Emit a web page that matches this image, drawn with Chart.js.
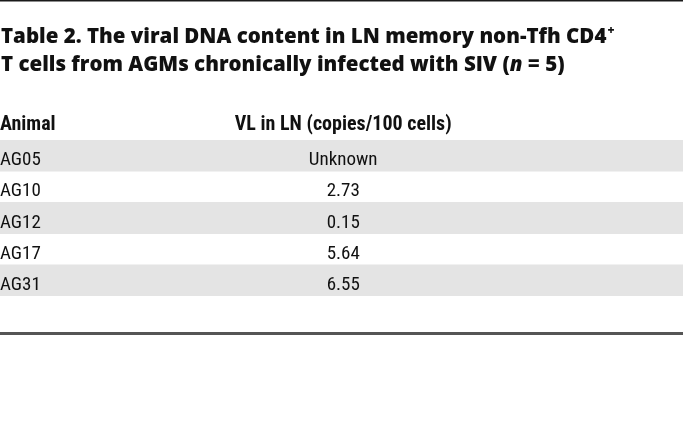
<!DOCTYPE html>
<html lang="en">
<head>
    <meta charset="UTF-8">
    <title>Table 2 - viral DNA content in LN memory non-Tfh CD4+ T cells</title>
    <script src="https://cdn.jsdelivr.net/npm/chart.js"></script>
    <style>
        body { margin: 0; background: #fff; }
        #wrap { width: 683px; height: 432px; position: relative; }
    </style>
</head>
<body>
    <div id="wrap"><canvas id="tableChart"></canvas></div>
    <script>
        // table data
        var animals = ['AG05', 'AG10', 'AG12', 'AG17', 'AG31'];
        var vlInLN = ['Unknown', '2.73', '0.15', '5.64', '6.55'];
        var columnHeaders = ['Animal', 'VL in LN (copies/100 cells)'];

        var bodyFont = '19px "Roboto Condensed", Roboto, sans-serif';
        var headFont = 'bold 20px "Roboto Condensed", Roboto, sans-serif';
        var titleFont = '800 20.5px "Open Sans", "Noto Sans", sans-serif';

        // draws the rules, title, headers and cell text on top of the stripes
        var tableText = {
            id: 'tableText',
            beforeDraw: function (chart) {
                var c = chart.ctx;
                c.save();
                c.fillStyle = '#1a1a1a';
                c.fillRect(0, 0, chart.width, 1.5);

                c.fillStyle = '#111';
                c.textBaseline = 'alphabetic';
                c.textAlign = 'left';
                c.font = titleFont;
                var t1 = 'Table 2. The viral DNA content in LN memory non-Tfh CD4';
                c.fillText(t1, 1, 43);
                var w = c.measureText(t1).width;
                c.font = '800 12px "Open Sans", sans-serif';
                c.fillText('+', 2 + w, 34);

                c.font = titleFont;
                var t2 = 'T cells from AGMs chronically infected with SIV (';
                c.fillText(t2, 1, 71);
                var x = 1 + c.measureText(t2).width;
                c.font = 'italic 800 20.5px "Open Sans", "Noto Sans", sans-serif';
                c.fillText('n', x, 71);
                x += c.measureText('n').width;
                c.font = titleFont;
                c.fillText(' = 5)', x, 71);
                c.restore();
            },
            afterDatasetsDraw: function (chart) {
                var c = chart.ctx;
                var xs = chart.scales.x;
                var ys = chart.scales.y;
                var colX = xs.getPixelForValue(0.5025);
                c.save();
                c.fillStyle = '#111';
                c.textBaseline = 'alphabetic';

                var headY = ys.getPixelForValue(0) - ys.height / animals.length + 6;
                c.font = headFont;
                c.textAlign = 'left';
                c.fillText(columnHeaders[0], xs.left, headY);
                c.textAlign = 'center';
                c.fillText(columnHeaders[1], colX, headY);

                c.font = bodyFont;
                animals.forEach(function (a, i) {
                    var y = ys.getPixelForValue(i) + 9.5;
                    c.textAlign = 'left';
                    c.fillText(a, xs.left, y);
                    c.textAlign = 'center';
                    c.fillText(vlInLN[i], colX, y);
                });

                c.fillStyle = '#555';
                c.fillRect(0, 332, chart.width, 3);
                c.restore();
            }
        };

        new Chart(document.getElementById('tableChart'), {
            type: 'bar',
            data: {
                labels: animals,
                datasets: [{
                    label: 'row shading',
                    data: animals.map(function (a, i) { return i % 2 === 0 ? [0, 1] : null; }),
                    backgroundColor: '#e4e4e4',
                    borderWidth: 0,
                    barPercentage: 1,
                    categoryPercentage: 1
                }]
            },
            options: {
                indexAxis: 'y',
                responsive: true,
                maintainAspectRatio: false,
                animation: false,
                layout: { padding: { top: 140, bottom: 136, left: 0, right: 0 } },
                scales: {
                    x: { display: false, min: 0, max: 1 },
                    y: { display: false, offset: true }
                },
                plugins: {
                    legend: { display: false },
                    tooltip: { enabled: false },
                    title: { display: false }
                }
            },
            plugins: [tableText]
        });
    </script>
</body>
</html>
